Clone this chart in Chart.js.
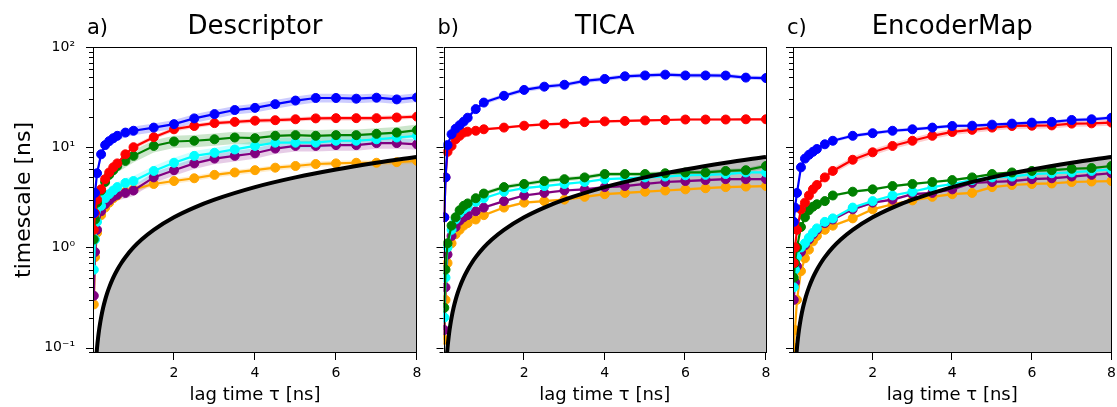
<!DOCTYPE html>
<html>
<head>
<meta charset="utf-8">
<script src="https://cdn.jsdelivr.net/npm/chart.js@4.4.1/dist/chart.umd.min.js"></script>
<style>
    body { margin: 0; background: #ffffff; }
    #wrap { position: relative; width: 1117px; height: 407px; overflow: hidden; }
    #wrap canvas { position: absolute; top: 0; }
</style>
</head>
<body>
<div id="wrap">
    <canvas id="panelA" width="430" height="407" style="left:0px;width:430px;height:407px"></canvas>
    <canvas id="panelB" width="350" height="407" style="left:430px;width:350px;height:407px"></canvas>
    <canvas id="panelC" width="337" height="407" style="left:780px;width:337px;height:407px"></canvas>
</div>
<script>
// lag times (ns) of the estimated implied timescales
const lagTimes = [0.02, 0.05, 0.1, 0.2, 0.3, 0.4, 0.5, 0.6, 0.8, 1, 1.5, 2, 2.5, 3, 3.5, 4, 4.5, 5, 5.5, 6, 6.5, 7, 7.5, 8];

const seriesColors = ["#0000ff", "#ff0000", "#008000", "#00ffff", "#800080", "#ffa500"];

// a) Descriptor
const descBlue   = [2.2, 3.5, 5.5, 8.5, 10.5, 11.5, 12.3, 13, 14, 14.6, 15.7, 17, 19.4, 21.4, 23.5, 24.7, 26.9, 29.2, 31, 31, 30.5, 31.2, 30, 31.4];
const descRed    = [1.5, 2.2, 3.0, 3.8, 4.8, 5.6, 6.3, 6.9, 8.5, 10, 12.6, 15.1, 16.3, 17.4, 17.9, 18.4, 18.6, 19, 19.4, 19.5, 19.5, 19.5, 19.8, 20.2];
const descGreen  = [1.2, 1.9, 2.8, 3.7, 4.5, 5.3, 5.9, 6.5, 7.3, 8.2, 10.3, 11.4, 11.6, 12, 12.5, 12.3, 13, 13.2, 13, 13.2, 13.2, 13.6, 14, 14.8];
const descCyan   = [0.6, 1.2, 1.8, 2.6, 3.1, 3.4, 3.7, 4.0, 4.4, 4.6, 5.8, 7.0, 8.2, 8.8, 9.5, 10.3, 11.1, 11.1, 11.1, 11.6, 11.6, 12, 12.5, 13];
const descPurple = [0.33, 0.9, 1.5, 2.3, 2.7, 2.95, 3.2, 3.35, 3.5, 3.7, 5.0, 5.9, 6.9, 7.7, 8.2, 8.7, 9.7, 10.3, 10.3, 10.5, 10.5, 11, 11, 10.7];
const descOrange = [0.27, 0.8, 1.4, 2.1, 2.5, 2.8, 3.1, 3.3, 3.6, 3.8, 4.3, 4.6, 4.9, 5.3, 5.6, 5.9, 6.25, 6.5, 6.8, 6.9, 7.0, 7.0, 7.1, 7.3];
const descSpread = [0.10, 0.05, 0.14, 0.12, 0.12, 0.06];

// b) TICA
const ticaBlue   = [2.0, 5.0, 10.5, 13.5, 15.3, 16.6, 18, 19.7, 24, 27.9, 32.6, 37.3, 40.2, 42, 46, 48, 51, 52, 53, 52, 52, 51.9, 49.5, 49];
const ticaRed    = [2.0, 5.0, 9.0, 10.3, 12, 13, 14, 14.3, 14.6, 15.1, 15.7, 16.4, 16.9, 17.2, 17.8, 18.1, 18.3, 18.5, 18.7, 18.9, 18.9, 18.9, 19, 19];
const ticaGreen  = [0.25, 0.6, 1.1, 1.65, 2.0, 2.35, 2.6, 2.75, 3.1, 3.45, 4.0, 4.3, 4.6, 4.8, 5.0, 5.4, 5.4, 5.4, 5.5, 5.6, 5.6, 5.8, 5.9, 6.5];
const ticaCyan   = [0.2, 0.5, 1.0, 1.5, 1.9, 2.2, 2.4, 2.55, 2.85, 3.1, 3.6, 3.9, 4.1, 4.3, 4.5, 4.8, 4.9, 5.0, 5.1, 5.25, 5.3, 5.4, 5.6, 5.6];
const ticaPurple = [0.15, 0.4, 0.85, 1.3, 1.6, 1.85, 2.0, 2.1, 2.3, 2.5, 2.9, 3.3, 3.5, 3.7, 3.8, 4.0, 4.1, 4.3, 4.5, 4.6, 4.7, 4.8, 4.8, 4.8];
const ticaOrange = [0.12, 0.3, 0.7, 1.1, 1.35, 1.5, 1.65, 1.75, 1.9, 2.1, 2.5, 2.8, 2.9, 3.0, 3.2, 3.4, 3.5, 3.6, 3.7, 3.8, 3.9, 4.0, 4.05, 4.1];
const ticaSpread = [0.05, 0.03, 0.05, 0.03, 0.03, 0.03];

// c) EncoderMap
const encBlue   = [1.8, 2.5, 3.5, 6.3, 7.7, 8.4, 9.0, 9.6, 10.7, 11.6, 13, 13.8, 14.6, 15.1, 15.7, 16.3, 16.4, 16.8, 17.2, 17.6, 17.9, 18.7, 19, 19.7];
const encRed    = [0.7, 1.0, 1.5, 2.4, 2.8, 3.3, 3.8, 4.2, 5.0, 5.8, 7.5, 8.9, 10.3, 11.6, 13, 14.2, 14.9, 15.7, 16.3, 16.4, 16.5, 17.2, 17.3, 17.6];
const encGreen  = [0.5, 0.7, 1.0, 1.6, 2.0, 2.35, 2.55, 2.7, 2.9, 3.3, 3.6, 3.8, 4.1, 4.3, 4.5, 4.7, 5.0, 5.4, 5.6, 5.8, 5.9, 6.1, 6.2, 6.5];
const encCyan   = [0.4, 0.6, 0.8, 1.0, 1.1, 1.25, 1.4, 1.55, 1.8, 1.95, 2.5, 2.9, 3.3, 3.6, 4.0, 4.3, 4.7, 5.0, 5.1, 5.4, 5.5, 5.6, 5.8, 6.0];
const encPurple = [0.3, 0.45, 0.65, 0.9, 1.05, 1.2, 1.35, 1.5, 1.75, 1.9, 2.4, 2.8, 3.0, 3.4, 3.5, 3.8, 4.4, 4.5, 4.6, 4.8, 4.9, 5.1, 5.3, 5.5];
const encOrange = [0.1, 0.15, 0.3, 0.58, 0.78, 0.95, 1.15, 1.3, 1.5, 1.65, 1.95, 2.4, 2.7, 2.95, 3.2, 3.4, 3.5, 4.0, 4.2, 4.3, 4.35, 4.5, 4.55, 4.6];
const encSpread = [0.04, 0.07, 0.03, 0.03, 0.03, 0.03];

// timescale = lag time line (gray region below it)
const refLag = [0.085, 0.09, 0.1, 0.11, 0.125, 0.15, 0.175, 0.2, 0.25, 0.3, 0.35, 0.4, 0.5, 0.6, 0.7, 0.8, 1, 1.2, 1.5, 2, 2.5, 3, 4, 5, 6, 7, 8];

// axis ticks
const xTickVals = [2, 4, 6, 8];
const yTickVals = [0.09, 0.1, 0.2, 0.3, 0.4, 0.5, 0.6, 0.7, 0.8, 0.9,
                   1, 2, 3, 4, 5, 6, 7, 8, 9,
                   10, 20, 30, 40, 50, 60, 70, 80, 90, 100];
const yTickLabels = { "-1": "10⁻¹", "0": "10⁰", "1": "10¹", "2": "10²" };

const FONT = "'DejaVu Sans', sans-serif";
Chart.defaults.font.family = FONT;
Chart.defaults.color = "#000000";

function isDecade(v) {
    const e = Math.log10(v);
    return Math.abs(e - Math.round(e)) < 1e-9;
}

function withAlpha(hex, a) {
    const n = parseInt(hex.slice(1), 16);
    return `rgba(${(n >> 16) & 255}, ${(n >> 8) & 255}, ${n & 255}, ${a})`;
}

// frame, outward tick marks and the panel titles
const axisDecor = {
    id: "axisDecor",
    afterDraw(chart, args, opts) {
        const { ctx, chartArea: a, scales } = chart;
        ctx.save();
        ctx.strokeStyle = "#000000";
        ctx.lineWidth = 1;
        ctx.strokeRect(Math.round(a.left) + 0.5, Math.round(a.top) + 0.5,
            Math.round(a.right - a.left) - 1, Math.round(a.bottom - a.top) - 1);

        yTickVals.forEach((v) => {
            const py = Math.round(scales.y.getPixelForValue(v)) + 0.5;
            if (py > a.bottom + 1) return;
            const len = isDecade(v) ? 7 : 4;
            ctx.beginPath();
            ctx.moveTo(a.left - len, py);
            ctx.lineTo(a.left, py);
            ctx.stroke();
        });
        xTickVals.forEach((v) => {
            const px = Math.round(scales.x.getPixelForValue(v)) - 0.5;
            ctx.beginPath();
            ctx.moveTo(px, a.bottom);
            ctx.lineTo(px, a.bottom + 7);
            ctx.stroke();
        });

        ctx.fillStyle = "#000000";
        ctx.textBaseline = "alphabetic";
        ctx.font = `26px ${FONT}`;
        ctx.textAlign = "center";
        ctx.fillText(opts.title, (a.left + a.right) / 2, 34);
        ctx.font = `21px ${FONT}`;
        ctx.textAlign = "left";
        ctx.fillText(opts.tag, a.left - 6, 34);
        ctx.restore();
    },
};

function buildDatasets(seriesList, spreads) {
    const datasets = [];
    const refPoints = refLag.map((t) => ({ x: t, y: t }));

    datasets.push({
        data: refPoints,
        borderColor: "#000000",
        borderWidth: 4,
        pointRadius: 0,
        fill: false,
        cubicInterpolationMode: "monotone",
        order: 0,
        clip: 0,
    });

    seriesList.forEach((vals, i) => {
        datasets.push({
            data: lagTimes.map((x, j) => ({ x: x, y: vals[j] })),
            borderColor: seriesColors[i],
            backgroundColor: seriesColors[i],
            borderWidth: 2.2,
            pointRadius: 4.5,
            pointBorderWidth: 1,
            pointHoverRadius: 4.5,
            fill: false,
            order: 1 + i,
            clip: 0,
        });
    });

    // shaded uncertainty bands
    seriesList.forEach((vals, i) => {
        datasets.push({
            data: lagTimes.map((x, j) => ({ x: x, y: vals[j] * (1 - spreads[i]) })),
            borderWidth: 0,
            pointRadius: 0,
            fill: false,
            order: 20 + i,
            clip: 0,
        });
        datasets.push({
            data: lagTimes.map((x, j) => ({ x: x, y: vals[j] * (1 + spreads[i]) })),
            borderWidth: 0,
            pointRadius: 0,
            fill: "-1",
            backgroundColor: withAlpha(seriesColors[i], 0.2),
            order: 20 + i,
            clip: 0,
        });
    });

    datasets.push({
        data: refPoints,
        borderWidth: 0,
        pointRadius: 0,
        fill: "start",
        backgroundColor: "#bfbfbf",
        cubicInterpolationMode: "monotone",
        order: 100,
        clip: 0,
    });
    return datasets;
}

function createPanel(canvasId, seriesList, spreads, title, tag, yAxisWidth, rightPad, showYLabels) {
    const ctx = document.getElementById(canvasId).getContext("2d");
    return new Chart(ctx, {
        type: "line",
        data: { datasets: buildDatasets(seriesList, spreads) },
        plugins: [axisDecor],
        options: {
            responsive: false,
            animation: false,
            events: [],
            layout: { padding: { top: 47, right: rightPad, bottom: 0, left: 0 } },
            plugins: {
                legend: { display: false },
                tooltip: { enabled: false },
                filler: { drawTime: "beforeDatasetsDraw" },
                axisDecor: { title: title, tag: tag },
            },
            scales: {
                x: {
                    type: "linear",
                    min: 0,
                    max: 8,
                    afterBuildTicks: (s) => { s.ticks = xTickVals.map((v) => ({ value: v })); },
                    afterFit: (s) => { s.height = 54; s.paddingLeft = 0; s.paddingRight = 0; },
                    grid: { display: false, drawTicks: false },
                    border: { display: false },
                    ticks: { padding: 12, maxRotation: 0, autoSkip: false, font: { size: 14 }, color: "#000000" },
                    title: {
                        display: true,
                        text: "lag time τ [ns]",
                        font: { size: 18 },
                        color: "#000000",
                        padding: { top: 0, bottom: 1 },
                    },
                },
                y: {
                    type: "logarithmic",
                    min: 0.0885,
                    max: 100,
                    afterBuildTicks: (s) => { s.ticks = yTickVals.map((v) => ({ value: v })); },
                    afterFit: (s) => { s.width = yAxisWidth; s.paddingTop = 0; s.paddingBottom = 0; },
                    grid: { display: false, drawTicks: false },
                    border: { display: false },
                    ticks: {
                        display: showYLabels,
                        padding: 18,
                        autoSkip: false,
                        font: { size: 14 },
                        color: "#000000",
                        callback: (v) => (isDecade(v) ? yTickLabels[String(Math.round(Math.log10(v)))] : ""),
                    },
                    title: {
                        display: showYLabels,
                        text: "timescale [ns]",
                        font: { size: 22 },
                        color: "#000000",
                        padding: { top: 11, bottom: 0 },
                    },
                },
            },
        },
    });
}

createPanel("panelA", [descBlue, descRed, descGreen, descCyan, descPurple, descOrange], descSpread,
    "Descriptor", "a)", 93, 13, true);
createPanel("panelB", [ticaBlue, ticaRed, ticaGreen, ticaCyan, ticaPurple, ticaOrange], ticaSpread,
    "TICA", "b)", 13.5, 14, false);
createPanel("panelC", [encBlue, encRed, encGreen, encCyan, encPurple, encOrange], encSpread,
    "EncoderMap", "c)", 13, 1, false);
</script>
</body>
</html>
